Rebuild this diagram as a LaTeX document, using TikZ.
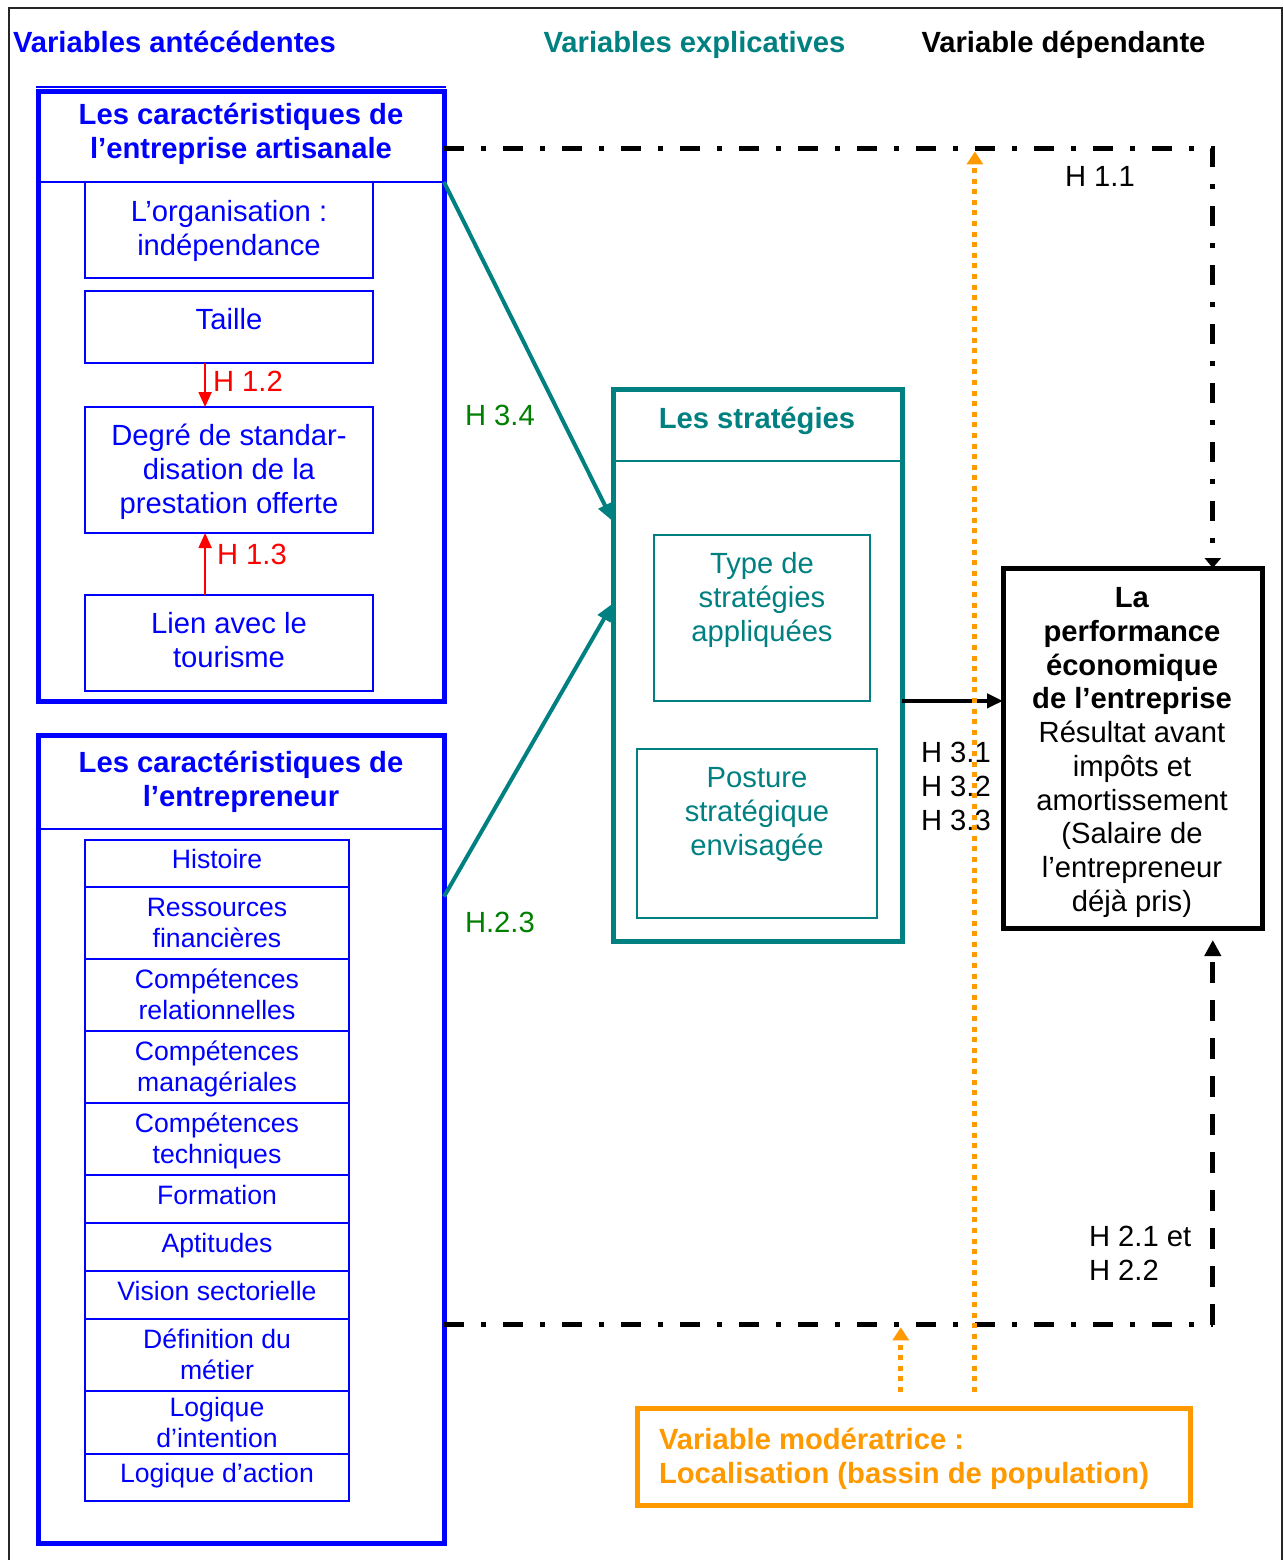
\documentclass[tikz,border=0pt]{standalone}
\usepackage{fontspec}
\setmainfont{Liberation Sans}
\usetikzlibrary{arrows.meta,calc,fit}
\definecolor{vblue}{RGB}{0,0,255}
\definecolor{vteal}{RGB}{0,128,128}
\definecolor{vgreen}{RGB}{0,128,0}
\definecolor{vred}{RGB}{255,0,0}
\definecolor{vorange}{RGB}{255,153,0}
\newcommand\szA{\fontsize{14.6pt}{17pt}\selectfont}
\newcommand\szB{\fontsize{13.3pt}{15.5pt}\selectfont}

\begin{document}
\begin{tikzpicture}[x=0.5pt,y=-0.5pt,
  every node/.style={inner sep=0pt, outer sep=0pt},
  txt/.style={font=\szA, align=center},
  txtb/.style={font=\szA\bfseries, align=center},
  txts/.style={font=\szB, align=center},
  lab/.style={font=\szA, anchor=base west},
  frame/.style={draw, inner sep=0pt, outer sep=0pt},
  bigblue/.style={frame, draw=vblue, line width=2.5pt},
  thinblue/.style={frame, draw=vblue, line width=1pt},
  bigteal/.style={frame, draw=vteal, line width=2.5pt},
  thinteal/.style={frame, draw=vteal, line width=1pt},
  bigblack/.style={frame, draw=black, line width=2.5pt},
  bigorange/.style={frame, draw=vorange, line width=2.5pt},
  redarrow/.style={draw=vred, line width=1pt, -{Triangle[length=7.5pt,width=6.5pt]}},
  tealarrow/.style={draw=vteal, line width=2pt, -{Triangle[length=9pt,width=7pt]}},
  blackarrow/.style={draw=black, line width=2pt, -{Triangle[length=8pt,width=7pt]}},
  dashdotline/.style={draw=black, line width=2.5pt, dash pattern=on 10pt off 8.5pt on 2.5pt off 8.5pt},
  dashline/.style={draw=black, line width=2.5pt, dash pattern=on 10.5pt off 8.5pt},
  orangedots/.style={draw=vorange, line width=2.5pt, dash pattern=on 2.5pt off 2.8pt,
    -{Triangle[length=6.5pt,width=8pt]}},
]
\useasboundingbox (0,0) rectangle (1284,1560);

% outer frame, open at the bottom
\draw[line width=1pt, draw=black!85] (9,1560) -- (9,8) -- (1282,8) -- (1282,1560);

% column headings
\node[font=\szA\bfseries, text=vblue, anchor=base west] (hant) at (13,52.5) {Variables antécédentes};
\node[font=\szA\bfseries, text=vteal, anchor=base] (hexp) at (694.5,52.5) {Variables explicatives};
\node[font=\szA\bfseries, text=black, anchor=base] (hdep) at (1063.5,52.5) {Variable dépendante};

% ---- craft business characteristics ----
\node[bigblue, fit={(38,91)(444,701)}] (art) {};
\draw[vblue, line width=0.7pt] ($(art.north west)+(-2,-4)$) -- ($(art.north east)+(2,-4)$);
\node[fit={(38,91)(444,182)}] (arthead) {};
\draw[vblue, line width=1pt] (arthead.south west) -- (arthead.south east);
\node[txtb, text=vblue] (artt) at (241,134) {Les caractéristiques de\\l’entreprise artisanale};

\node[thinblue, fit={(85,182)(373,278)}] (org) {};
\node[txt, text=vblue] (orgt) at (229,231) {L’organisation :\\indépendance};
\node[thinblue, fit={(85,291)(373,363)}] (taille) {};
\node[txt, text=vblue] (taillet) at (229,319) {Taille};
\node[thinblue, fit={(85,407)(373,533)}] (degre) {};
\node[txt, text=vblue] (degret) at (229,472) {Degré de standar-\\disation de la\\prestation offerte};
\node[thinblue, fit={(85,595)(373,691)}] (lien) {};
\node[txt, text=vblue] (lient) at (229,640) {Lien avec le\\tourisme};

\draw[redarrow] ($(taille.south west)!0.417!(taille.south east)$) coordinate (h12a) -- (h12a |- degre.north);
\node[lab, text=vred] (h12) at (213,391.5) {H 1.2};
\draw[redarrow] ($(lien.north west)!0.417!(lien.north east)$) coordinate (h13a) -- (h13a |- degre.south);
\node[lab, text=vred] (h13) at (217,564.5) {H 1.3};

% ---- entrepreneur characteristics ----
\node[bigblue, fit={(38,735)(444,1543)}] (ent) {};
\node[fit={(38,735)(444,829)}] (enthead) {};
\draw[vblue, line width=1pt] (enthead.south west) -- (enthead.south east);
\node[txtb, text=vblue] (entt) at (241,782) {Les caractéristiques de\\l’entrepreneur};

% list of cells: name / top / bottom / text centre / text
\foreach \n/\ya/\yb/\yt/\lbl in {
  hist/840/887/859/{Histoire},
  ress/887/959/923/{Ressources\\financières},
  crel/959/1031/994/{Compétences\\relationnelles},
  cman/1031/1103/1069/{Compétences\\managériales},
  ctec/1103/1175/1141/{Compétences\\techniques},
  form/1175/1223/1195/{Formation},
  apti/1223/1271/1245.5/{Aptitudes},
  visi/1271/1319/1291/{Vision sectorielle},
  defi/1319/1391/1354/{Définition du\\métier},
  lint/1391/1454/1422.5/{Logique\\d’intention},
  lact/1454/1501/1475.5/{Logique d’action}}
{
  \node[thinblue, fit={(85,\ya)(349,\yb)}] (\n) {};
  \node[txts, text=vblue] (\n-t) at (217,\yt) {\lbl};
}

% ---- strategies ----
\node[bigteal, fit={(613,389)(902,941)}] (strat) {};
\node[fit={(613,389)(902,461)}] (strathead) {};
\draw[vteal, line width=1pt] (strathead.south west) -- (strathead.south east);
\node[txtb, text=vteal] (stratt) at (757,421) {Les stratégies};
\node[thinteal, fit={(654,535)(870,701)}] (type) {};
\node[txt, text=vteal] (typet) at (762,599.5) {Type de\\stratégies\\appliquées};
\node[thinteal, fit={(637,749)(877,918)}] (post) {};
\node[txt, text=vteal] (postt) at (757,814) {Posture\\stratégique\\envisagée};

% ---- economic performance ----
\node[bigblack, fit={(1003,568)(1262,928)}] (perf) {};
\node[txt, font=\fontsize{14.6pt}{16.85pt}\selectfont] (perft) at (1132,752.5) {\textbf{La}\\\textbf{performance}\\\textbf{économique}\\\textbf{de l’entreprise}\\Résultat avant\\impôts et\\amortissement\\(Salaire de\\l’entrepreneur\\déjà pris)};

% ---- moderating variable ----
\node[bigorange, fit={(637,1408)(1190,1505)}] (mod) {};
\node[font=\szA\bfseries, text=vorange, align=left, anchor=west] (modt) at (659,1459) {Variable modératrice :\\Localisation (bassin de population)};

% ---- hypotheses: links ----
\draw[tealarrow] (arthead.south east) -- ($(strat.north west)!0.24!(strat.south west)$);
\node[lab, text=vgreen] (h34) at (465,425.5) {H 3.4};
\draw[tealarrow] ($(ent.north east)!0.2!(ent.south east)$) -- ($(strat.north west)!0.388!(strat.south west)$);
\node[lab, text=vgreen] (h23) at (465,932.5) {H.2.3};

\draw[blackarrow] ($(strat.north east)!0.565!(strat.south east)$) coordinate (s3a) -- (s3a -| perf.west);
\node[lab, align=left, anchor=west] (h3) at (921,786) {H 3.1\\H 3.2\\H 3.3};

\coordinate (c11) at ($(perf.north west)!0.81!(perf.north east)$);
\draw[dashdotline, -{Triangle[length=5pt,width=8pt]}] ($(art.north east)!0.095!(art.south east)$) coordinate (d11) -| (c11);
\node[lab] (h11) at (1065,186.5) {H 1.1};

\coordinate (d21) at ($(ent.north east)!0.73!(ent.south east)$);
\coordinate (c21) at ($(perf.south west)!0.81!(perf.south east)$);
\draw[dashdotline] (d21) -- (d21 -| c21);
\draw[dashline, shorten >=6pt, -{Triangle[length=8pt,width=8pt]}] (d21 -| c21) -- (c21);
\node[lab, align=left, anchor=west] (h2) at (1089,1253) {H 2.1 et\\H 2.2};

% moderation arrows
\draw[orangedots, shorten <=8pt, shorten >=1.25pt] ($(mod.north west)!0.611!(mod.north east)$) coordinate (m1) -- (m1 |- d11);
\draw[orangedots, shorten <=8pt, shorten >=1.25pt] ($(mod.north west)!0.477!(mod.north east)$) coordinate (m2) -- (m2 |- d21);

\end{tikzpicture}
\end{document}
